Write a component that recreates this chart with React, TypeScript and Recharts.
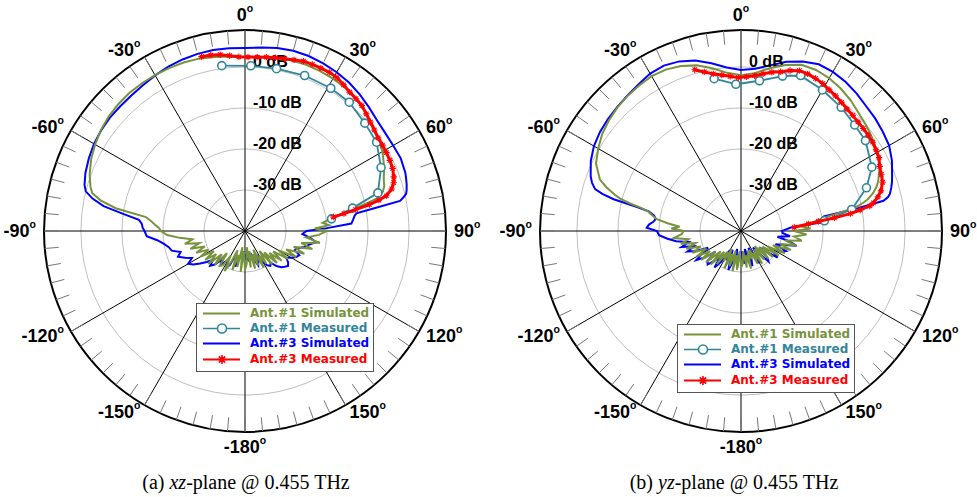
import React from 'react'
import { PolarAngleAxis, PolarGrid, PolarRadiusAxis, Radar, RadarChart } from 'recharts'

const GREEN = '#77933c'
const TEAL = '#31859c'
const BLUE = '#0000ff'
const RED = '#ff0000'
const SANS = '"Liberation Sans", Arial, sans-serif'
const LEGEND_FONT = '"DejaVu Sans", Verdana, sans-serif'
const SERIF = '"Liberation Serif", "Times New Roman", serif'

const angleTicks = [-180, -150, -120, -90, -60, -30, 0, 30, 60, 90, 120, 150]
const minorTicks = Array.from({ length: 72 }, (_, i) => -180 + i * 5)
const dbTicks = [-30, -20, -10, 0]
const legendLabels = ['Ant.#1 Simulated', 'Ant.#1 Measured', 'Ant.#3 Simulated', 'Ant.#3 Measured']

// ---- (a) xz-plane ----
const xzSimAngles = [
  -180, -177, -174, -171, -168, -165, -162, -159, -156, -153, -150, -147, -144, -141, -138,
  -135, -132, -129, -126, -123, -120, -117, -114, -111, -108, -105, -102, -99, -96, -93,
  -90, -88, -86, -84, -82, -80, -78, -76, -74, -70,
  -65, -60, -55, -50, -45, -40, -35, -30, -25, -20, -15, -10, -5, 0, 5, 10, 15, 20, 25, 30,
  35, 40, 45, 50, 55, 60, 65,
  70, 72, 74, 76, 77, 78, 79, 80, 81, 82, 84, 86, 88, 90,
  93, 96, 99, 102, 105, 108, 111, 114, 117, 120, 123, 126, 129, 132, 135, 138, 141, 144,
  147, 150, 153, 156, 159, 162, 165, 168, 171, 174, 177,
]
const xzAnt1Sim = [
  -30.5, -35, -30, -36, -31, -34, -30, -35, -32, -29, -33, -30, -29.5, -33, -29,
  -32, -28, -31, -28, -31, -27.5, -30, -27, -29.5, -26, -28.5, -25, -27, -24, -21,
  -19.5, -19, -18, -17, -15.6, -8, -4, -1.6, -0.8, 0.3,
  1.4, 2.2, 2.9, 3.4, 3.7, 3.9, 3.9, 3.9, 3.8, 3.7, 3.5, 3.1, 2.7, 2.4, 2.5, 2.8, 3.1, 3.2, 3.1, 2.9,
  2.6, 2.2, 1.3, 0.5, -0.4, -1.3, -2.6,
  -4.0, -4.3, -5, -6.5, -9, -12, -14, -16, -18, -19, -21, -19.5, -23, -20,
  -22, -25, -21.5, -26, -23, -27.5, -24.5, -29, -26, -30.5, -27.5, -31.5, -28.5, -32, -29, -33, -29.5, -34,
  -30.5, -33, -30, -35, -31, -34, -30.5, -35, -31, -36, -32,
]
const xzAnt3Sim = [
  -33, -35, -33, -34.5, -33, -31, -32.5, -34, -31, -30, -31.5, -31, -30, -31, -29,
  -28, -29.5, -28, -26.5, -25, -24, -25.5, -24, -22.5, -23.5, -21.5, -21, -20, -18.5, -16,
  -15.5, -15, -14.8, -14, -10, -5, -2, 0, 0.7, 1.4,
  2, 2.5, 2.8, 3, 3, 3.1, 3.4, 3.8, 4.2, 4.5, 4.7, 4.8, 4.7, 4.6, 4.9, 5.3, 5.5, 5.4, 5.1, 4.7,
  4.2, 3.5, 2.7, 2.0, 1.7, 1.7, 1.9,
  1.6, 1.3, 1.0, 0.6, 0.3, -0.5, -1.5, -8, -12.5, -13, -13.5, -14, -20, -25,
  -26, -24, -22.5, -24, -25, -26.5, -27, -25.5, -26, -27, -28, -27, -26.5, -27, -27.5, -28.5, -30, -29.5,
  -30, -31.5, -33, -32, -31, -32.5, -34, -33.5, -32.5, -33, -34,
]
const xzAnt1MeasAngles = [-8, 2, 11, 21, 31, 39, 48, 56, 65, 74, 78, 82]
const xzAnt1Meas = [0.7, 0.3, 0.3, 0.6, 0.6, 0.4, -0.7, -1.3, -3.4, -6.3, -13.2, -18.7]
const xzAnt3MeasAngles = [
  -14, -11, -8, -5, -2, 1, 4, 7, 10, 13, 16, 19, 22, 25, 28, 31, 34, 37, 40, 43, 46, 49, 52,
  55, 58, 61, 64, 67, 70, 72, 74, 76, 77, 78, 79, 80, 81,
]
const xzAnt3Meas = [
  3.8, 3.7, 3.4, 2.9, 2.5, 2.4, 2.5, 2.7, 2.9, 3.1, 3.4, 3.8, 3.8, 3.8, 3.8, 3.6, 3.0, 2.4, 2.1,
  1.8, 1.1, 0.5, 0.0, -0.4, -0.5, -0.6, -0.7, -0.9, -1.4, -1.9, -2.8, -4.5, -6.5, -9, -12.5,
  -15.5, -18.2,
]

// ---- (b) yz-plane ----
const yzSimAngles = [
  -180, -177, -174, -171, -168, -165, -162, -159, -156, -153, -150, -147, -144, -141, -138,
  -135, -132, -129, -126, -123, -120, -117, -114, -111, -108, -105, -102, -99, -96, -93,
  -90, -88, -86, -84, -82, -80, -78, -77, -76, -75, -74, -72, -70,
  -65, -60, -55, -50, -45, -40, -35, -30, -25, -20, -15, -10, -5, 0, 5, 10, 15, 20, 25, 30,
  35, 40, 45, 50, 55, 60, 65,
  70, 72, 74, 76, 77, 78, 79, 80, 81, 82, 84, 86, 88, 90,
  93, 96, 99, 102, 105, 108, 111, 114, 117, 120, 123, 126, 129, 132, 135, 138, 141, 144,
  147, 150, 153, 156, 159, 162, 165, 168, 171, 174, 177,
]
const yzAnt1Sim = [
  -31, -35, -30.5, -34, -30, -35, -31, -34, -30, -35, -31.5, -34, -30, -33.5, -29,
  -33, -28.5, -32, -28, -31, -27.5, -30.5, -27, -29.5, -26, -28.5, -25, -27, -23.5, -25.5,
  -26, -23, -25, -22, -19.3, -18, -16.8, -15, -12, -9.5, -8, -5.5, -3.4,
  -1.0, 0.2, 1.3, 2.0, 2.6, 3.0, 3.3, 3.6, 3.4, 2.8, 1.8, 0.3, -1.3, -2, -1.4, 0.3, 1.9, 3.1, 3.3, 3.0,
  2.4, 1.6, 0.6, -0.1, -0.8, -1.6, -2.7,
  -4.4, -5.3, -6.5, -8.2, -9.4, -11, -14, -17, -19.7, -21, -23, -25, -23, -27,
  -24, -27, -25, -29, -26, -30, -27, -31.5, -28, -32.5, -29, -33.5, -30, -34, -30.5, -35, -31, -34.5,
  -30.5, -34, -31, -35, -32.7, -35, -30.5, -34, -31, -35, -32,
]
const yzAnt3Sim = [
  -33, -35, -31, -33, -35.5, -32, -30, -33, -35, -32, -34.6, -31, -29, -32, -30,
  -28.5, -29, -32, -29, -27, -29, -31, -28, -26, -28, -25, -27, -24, -22, -20,
  -19.5, -17, -17.5, -18.5, -19, -18.5, -17, -14, -8, -5, -3, -1.8, -1,
  0.4, 1.4, 2, 2.4, 2.7, 3.1, 3.6, 4.3, 4.5, 4.0, 3.0, 1.5, 0, -0.75, -0.3, 1.0, 2.7, 4.0, 4.85, 4.8,
  4.4, 3.8, 3.1, 2.7, 2.2, 1.7, 0.6,
  -0.8, -1.3, -1.9, -2.6, -3.2, -4.5, -11, -19.5, -20, -20.3, -20.6, -27.8, -29, -30,
  -29.8, -28, -31, -28, -26, -29, -31, -28, -29, -31, -30.5, -29, -32, -34, -31, -30, -33, -35,
  -32, -31, -34, -35.5, -33, -31, -34, -35.5, -33, -32, -35,
]
const yzAnt1MeasAngles = [-10, -2, 7, 15, 21, 30, 39, 47, 54, 64, 71, 79, 83]
const yzAnt1Meas = [-2.3, -4.2, -3.1, -0.9, 0.6, -0.3, -1.2, -2.1, -2.5, -4.5, -7.65, -12.5, -19.5]
const yzAnt3MeasAngles = [
  -16, -13, -10, -7, -4, -1, 2, 5, 8, 11, 14, 17, 20, 23, 26, 29, 32, 35, 38, 41, 44, 47, 50,
  53, 56, 59, 62, 65, 68, 71, 74, 76, 78, 79, 80, 81, 82, 83, 84, 86,
]
const yzAnt3Meas = [
  0.9, -0.2, -1.1, -1.7, -2.2, -2.6, -2.4, -2.0, -1.3, -0.6, 0.0, 0.9, 1.6, 1.6, 1.4, 1.1, 0.6,
  0.2, -0.2, -0.6, -0.8, -1.0, -1.1, -1.2, -1.3, -1.6, -1.9, -2.7, -3.1, -3.5, -4.5, -5.6, -7,
  -8, -10.5, -13, -17, -21, -23.5, -27,
]

type Row = { angle: number; value: number }
const rows = (angles: number[], values: number[]): Row[] =>
  angles.map((angle, i) => ({ angle, value: values[i] }))

const CHART_W = 490
const CHART_H = 468
const CX = 245
const CY = 231
const OUTER = 201

function AngleLabel(props: any) {
  const { x, y, payload } = props
  const rad = (payload.coordinate * Math.PI) / 180
  const c = Math.cos(rad)
  const s = Math.sin(rad)
  const anchor = c > 0.01 ? 'start' : c < -0.01 ? 'end' : 'middle'
  // labels straight above / below the centre sit a little further out
  const dy = anchor === 'middle' ? (s > 0 ? -7 : 7) : 0
  return (
    <text x={x} y={y + dy} textAnchor={anchor} dominantBaseline="central" fontFamily={SANS} fontWeight="bold" fontSize={18} fill="#000">
      {payload.value}
      <tspan fontSize={10.5} dy={-7}>o</tspan>
    </text>
  )
}

function DbLabel(props: any) {
  const { x, y, payload } = props
  return (
    <text x={x + 8} y={y} fontFamily={SANS} fontWeight="bold" fontSize={16} fill="#000">
      {payload.value} dB
    </text>
  )
}

function OpenLine({ points, color, width }: { points: any[]; color: string; width: number }) {
  const d = points.map((p, i) => `${i ? 'L' : 'M'}${p.x},${p.y}`).join(' ')
  return <path d={d} fill="none" stroke={color} strokeWidth={width} strokeLinejoin="round" />
}

const circleDot = (p: any) => (
  <circle key={`c${p.index}`} cx={p.cx} cy={p.cy} r={4} fill="#fff" stroke={TEAL} strokeWidth={1.6} />
)

const starPath = (x: number, y: number, s: number) =>
  `M${x - s},${y}h${2 * s}M${x},${y - s}v${2 * s}M${x - s * 0.7},${y - s * 0.7}l${1.4 * s},${1.4 * s}M${x - s * 0.7},${y + s * 0.7}l${1.4 * s},${-1.4 * s}`

const starDot = (p: any) => (
  <path key={`s${p.index}`} d={starPath(p.cx, p.cy, 3.2)} stroke={RED} strokeWidth={1.1} fill="none" />
)

function Layer({ data, mode, children }: { data: Row[]; mode: 'base' | 'minor' | 'plain'; children: React.ReactNode }) {
  return (
    <div style={{ position: 'absolute', left: 0, top: 0 }}>
      <RadarChart
        width={CHART_W}
        height={CHART_H}
        data={data}
        cx={CX}
        cy={CY}
        innerRadius={0}
        outerRadius={OUTER}
        startAngle={270}
        endAngle={-90}
        margin={{ top: 0, right: 0, bottom: 0, left: 0 }}
      >
        {mode === 'base' && <PolarGrid gridType="circle" radialLines={false} stroke="#bfbfbf" strokeWidth={1} />}
        {mode === 'base' && <PolarGrid gridType="circle" polarRadius={[]} stroke="#000" strokeWidth={1} />}
        {mode === 'base' && (
          <PolarAngleAxis
            type="number"
            dataKey="angle"
            domain={[-180, 180]}
            ticks={angleTicks}
            tickSize={8}
            tickLine={false}
            axisLineType="circle"
            axisLine={{ stroke: '#000', strokeWidth: 2 }}
            tick={(p: any) => <AngleLabel {...p} />}
          />
        )}
        {mode === 'minor' && (
          <PolarAngleAxis
            type="number"
            dataKey="angle"
            domain={[-180, 180]}
            ticks={minorTicks}
            orientation="inner"
            tickSize={14}
            stroke="#777"
            tickLine={{ stroke: '#777' }}
            axisLine={false}
            tick={false}
          />
        )}
        {mode === 'plain' && (
          <PolarAngleAxis type="number" dataKey="angle" domain={[-180, 180]} tick={false} tickLine={false} axisLine={false} />
        )}
        <PolarRadiusAxis
          type="number"
          angle={90}
          domain={[-40, 9]}
          allowDataOverflow
          ticks={dbTicks}
          axisLine={false}
          tickLine={false}
          tick={mode === 'base' ? (p: any) => <DbLabel {...p} /> : false}
        />
        {children}
      </RadarChart>
    </div>
  )
}

function Legend({ left, top }: { left: number; top: number }) {
  const colors = [GREEN, TEAL, BLUE, RED]
  return (
    <div
      style={{
        position: 'absolute',
        left,
        top,
        width: 178,
        height: 69,
        border: '1px solid #555',
        background: '#fff',
        boxSizing: 'border-box',
      }}
    >
      {legendLabels.map((label, i) => (
        <div key={label} style={{ position: 'absolute', left: 0, top: 1.5 + i * 15.4, height: 15, width: '100%' }}>
          <svg width={44} height={15} style={{ position: 'absolute', left: 5, top: 0 }}>
            <line x1={1} x2={38} y1={7.5} y2={7.5} stroke={colors[i]} strokeWidth={i === 1 ? 1.6 : 2} />
            {i === 1 && <circle cx={20} cy={7.5} r={4.5} fill="#fff" stroke={TEAL} strokeWidth={1.6} />}
            {i === 3 && <path d={starPath(20, 7.5, 4.5)} stroke={RED} strokeWidth={1.6} fill="none" />}
          </svg>
          <span
            style={{
              position: 'absolute',
              left: 53,
              top: 0,
              lineHeight: '15px',
              fontSize: 12,
              fontWeight: 'bold',
              color: colors[i],
              fontFamily: LEGEND_FONT,
              whiteSpace: 'nowrap',
            }}
          >
            {label}
          </span>
        </div>
      ))}
    </div>
  )
}

interface PanelProps {
  left: number
  sim1: Row[]
  sim3: Row[]
  meas1: Row[]
  meas3: Row[]
  legendLeft: number
  legendTop: number
  captionX: number
  tag: string
  plane: string
}

function Panel({ left, sim1, sim3, meas1, meas3, legendLeft, legendTop, captionX, tag, plane }: PanelProps) {
  return (
    <div style={{ position: 'absolute', left, top: 0, width: 490, height: 497 }}>
      <Layer data={sim3} mode="base">
        <Radar dataKey="value" stroke={BLUE} strokeWidth={2} fill="none" dot={false} activeDot={false} isAnimationActive={false} />
      </Layer>
      <Layer data={sim1} mode="minor">
        <Radar dataKey="value" stroke={GREEN} strokeWidth={2} fill="none" dot={false} activeDot={false} isAnimationActive={false} />
      </Layer>
      <Layer data={meas1} mode="plain">
        <Radar
          dataKey="value"
          stroke={TEAL}
          fill="none"
          shape={(p: any) => <OpenLine points={p.points} color={TEAL} width={1.8} />}
          dot={circleDot}
          activeDot={false}
          isAnimationActive={false}
        />
      </Layer>
      <Layer data={meas3} mode="plain">
        <Radar
          dataKey="value"
          stroke={RED}
          fill="none"
          shape={(p: any) => <OpenLine points={p.points} color={RED} width={3} />}
          dot={starDot}
          activeDot={false}
          isAnimationActive={false}
        />
      </Layer>
      <Legend left={legendLeft} top={legendTop} />
      <div
        style={{
          position: 'absolute',
          left: captionX - 160,
          width: 320,
          top: 470,
          lineHeight: '24px',
          textAlign: 'center',
          fontFamily: SERIF,
          fontSize: 20,
          color: '#000',
          whiteSpace: 'nowrap',
        }}
      >
        {tag} <i>{plane}</i>-plane @ 0.455 THz
      </div>
    </div>
  )
}

export default function App() {
  return (
    <div style={{ position: 'absolute', left: 0, top: 0, width: 977, height: 497, background: '#fff', overflow: 'hidden' }}>
      <Panel
        left={0}
        sim1={rows(xzSimAngles, xzAnt1Sim)}
        sim3={rows(xzSimAngles, xzAnt3Sim)}
        meas1={rows(xzAnt1MeasAngles, xzAnt1Meas)}
        meas3={rows(xzAnt3MeasAngles, xzAnt3Meas)}
        legendLeft={196}
        legendTop={303}
        captionX={246}
        tag="(a)"
        plane="xz"
      />
      <Panel
        left={496}
        sim1={rows(yzSimAngles, yzAnt1Sim)}
        sim3={rows(yzSimAngles, yzAnt3Sim)}
        meas1={rows(yzAnt1MeasAngles, yzAnt1Meas)}
        meas3={rows(yzAnt3MeasAngles, yzAnt3Meas)}
        legendLeft={181}
        legendTop={324}
        captionX={238}
        tag="(b)"
        plane="yz"
      />
    </div>
  )
}
